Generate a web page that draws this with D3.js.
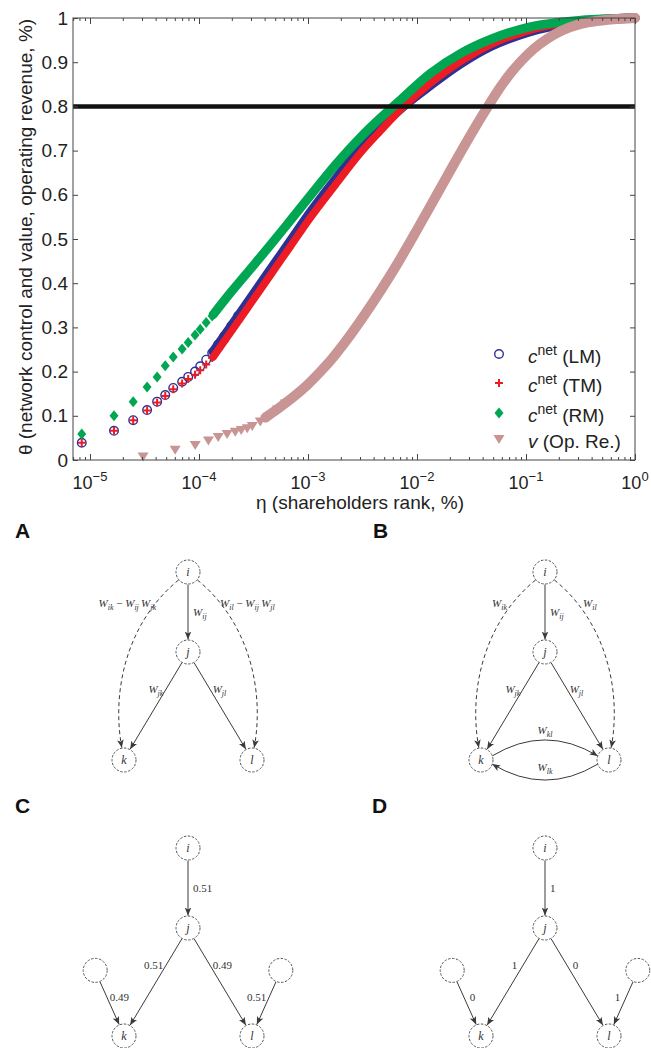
<!DOCTYPE html>
<html>
<head>
<meta charset="utf-8">
<script src="https://cdnjs.cloudflare.com/ajax/libs/d3/7.8.5/d3.min.js"></script>
<style>
body { margin: 0; background: #fff; }
svg { display: block; font-family: "Liberation Sans", Arial, sans-serif; }
</style>
</head>
<body>
<script>
// ---------- data ----------
// separate markers at the small-eta end (LM, TM, RM share the same eta)
var etaLow = [8.4e-6, 1.66e-5, 2.49e-5, 3.34e-5, 4.13e-5, 4.9e-5, 5.8e-5, 7.0e-5, 7.96e-5, 9.2e-5,
              1.026e-4, 1.164e-4, 1.321e-4, 1.50e-4, 1.705e-4, 1.977e-4, 2.29e-4];
var lmLow  = [0.039, 0.066, 0.090, 0.113, 0.132, 0.147, 0.163, 0.177, 0.188, 0.200,
              0.212, 0.227, 0.242, 0.261, 0.280, 0.303, 0.326];
var tmLow  = [0.039, 0.066, 0.090, 0.112, 0.130, 0.145, 0.160, 0.173, 0.183, 0.193,
              0.203, 0.216, 0.231, 0.249, 0.268, 0.291, 0.314];
var rmLow  = [0.059, 0.100, 0.132, 0.165, 0.188, 0.213, 0.233, 0.251, 0.266, 0.283,
              0.296, 0.311, 0.326, 0.343, 0.361, 0.381, 0.400];

// dense part (markers overlap into a band)
var etaDense = [1.35e-4, 1.94e-4, 2.96e-4, 4.51e-4, 6.89e-4, 1.05e-3, 1.79e-3, 3.03e-3,
                4.63e-3, 7.07e-3, 1.33e-2, 2.52e-2, 4.75e-2, 0.104, 0.319, 1];
var lmDense = [0.245, 0.300, 0.365, 0.430, 0.495, 0.560, 0.635, 0.705, 0.752, 0.795, 0.848, 0.897, 0.936, 0.968, 0.992, 1.0];
var tmDense = [0.233, 0.288, 0.353, 0.418, 0.483, 0.548, 0.623, 0.695, 0.745, 0.793, 0.853, 0.902, 0.940, 0.971, 0.993, 1.0];
var rmDense = [0.329, 0.378, 0.432, 0.486, 0.542, 0.598, 0.668, 0.730, 0.774, 0.815, 0.875, 0.920, 0.952, 0.979, 0.995, 1.0];

// operating revenue
var etaOpLow = [3.07e-5, 6.04e-5, 9.23e-5, 1.22e-4, 1.5e-4, 1.81e-4, 2.15e-4, 2.44e-4,
                2.77e-4, 3.08e-4, 3.65e-4, 4.32e-4, 5.24e-4, 6.2e-4];
var opLow    = [0.008, 0.023, 0.034, 0.044, 0.052, 0.059, 0.064, 0.068,
                0.072, 0.077, 0.087, 0.098, 0.114, 0.128];
var etaOpDense = [4.06e-4, 5.57e-4, 7.65e-4, 9.87e-4, 1.30e-3, 1.61e-3, 2.21e-3, 3.23e-3, 4.63e-3, 6.64e-3,
                  9.70e-3, 1.33e-2, 1.87e-2, 2.68e-2, 4.27e-2, 5.86e-2, 0.104, 0.180, 0.370, 1];
var opDense    = [0.096, 0.120, 0.146, 0.170, 0.200, 0.225, 0.268, 0.325, 0.383, 0.445,
                  0.515, 0.575, 0.640, 0.708, 0.792, 0.845, 0.918, 0.962, 0.990, 1.0];

var threshold = 0.8;
var yTicks = [0, 0.1, 0.2, 0.3, 0.4, 0.5, 0.6, 0.7, 0.8, 0.9, 1];
var xTickExp = [-5, -4, -3, -2, -1, 0];
var legendNames = ["(LM)", "(TM)", "(RM)", "(Op. Re.)"];

// diagrams
var nodeNames = ["i", "j", "k", "l", "m", "n"];
var nodeCol = [0, 0, -1, 1, -1.45, 1.45];
var nodeRow = [0, 1, 2.35, 2.35, 1.53, 1.53];
var edgesA = [["i","j","W_ij"], ["j","k","W_jk"], ["j","l","W_jl"],
              ["i","k","W_ik \u2212 W_ij\u2009W_jk","dash"], ["i","l","W_il \u2212 W_ij\u2009W_jl","dash"]];
var edgesB = [["i","j","W_ij"], ["j","k","W_jk"], ["j","l","W_jl"],
              ["i","k","W_ik","dash"], ["i","l","W_il","dash"],
              ["k","l","W_kl","arcUp"], ["l","k","W_lk","arcDown"]];
var edgesC = [["i","j","0.51"], ["j","k","0.51"], ["j","l","0.49"], ["m","k","0.49"], ["n","l","0.51"]];
var edgesD = [["i","j","1"], ["j","k","1"], ["j","l","0"], ["m","k","0"], ["n","l","1"]];

// ---------- chart ----------
var width = 651, height = 1048;
var svg = d3.select("body").append("svg")
    .attr("width", width)
    .attr("height", height);

var plotL = 73, plotR = 635, plotT = 18, plotB = 460;

var x = d3.scaleLog().domain([Math.pow(10, -5.156), 1]).range([plotL, plotR]);
var y = d3.scaleLinear().domain([0, 1]).range([plotB, plotT]);

var blue = "#2e3192", red = "#ed1c24", green = "#00a651", pink = "#c99494";

function pairs(xs, ys) { return xs.map(function(v, i) { return [v, ys[i]]; }); }

var line = d3.line()
    .x(function(d) { return x(d[0]); })
    .y(function(d) { return y(d[1]); })
    .curve(d3.curveMonotoneX);

var plot = svg.append("g");

function band(data, color, w) {
    plot.append("path")
        .datum(data)
        .attr("d", line)
        .attr("fill", "none")
        .attr("stroke", color)
        .attr("stroke-width", w)
        .attr("stroke-linecap", "round")
        .attr("stroke-linejoin", "round");
}

// blue circles
band(pairs(etaDense, lmDense), blue, 9.5);
plot.selectAll(".lm").data(pairs(etaLow, lmLow)).enter().append("circle")
    .attr("cx", function(d) { return x(d[0]); })
    .attr("cy", function(d) { return y(d[1]); })
    .attr("r", 4.3)
    .attr("fill", "none").attr("stroke", blue).attr("stroke-width", 1.4);

// red plus
band(pairs(etaDense, tmDense), red, 7.5);
plot.selectAll(".tm").data(pairs(etaLow, tmLow)).enter().append("path")
    .attr("transform", function(d) { return "translate(" + x(d[0]) + "," + y(d[1]) + ")"; })
    .attr("d", "M-4,0H4M0,-4V4")
    .attr("stroke", red).attr("stroke-width", 2);

// green diamonds
band(pairs(etaDense, rmDense), green, 9);
plot.selectAll(".rm").data(pairs(etaLow, rmLow)).enter().append("path")
    .attr("transform", function(d) { return "translate(" + x(d[0]) + "," + y(d[1]) + ")"; })
    .attr("d", "M0,-5.5L4.5,0L0,5.5L-4.5,0Z")
    .attr("fill", green);

// pink triangles
band(pairs(etaOpDense, opDense), pink, 10);
plot.selectAll(".op").data(pairs(etaOpLow, opLow)).enter().append("path")
    .attr("transform", function(d) { return "translate(" + x(d[0]) + "," + y(d[1]) + ")"; })
    .attr("d", "M-5.5,-4L5.5,-4L0,5Z")
    .attr("fill", pink);

// 80% line
svg.append("line")
    .attr("x1", plotL).attr("x2", plotR)
    .attr("y1", y(threshold)).attr("y2", y(threshold))
    .attr("stroke", "#111").attr("stroke-width", 4.5);

// axes
var decades = xTickExp.map(function(e) { return Math.pow(10, e); });
var minor = x.ticks().filter(function(v) {
    var l = Math.log10(v);
    return Math.abs(l - Math.round(l)) > 1e-6;
});

function styleAxis(g) {
    g.select(".domain").remove();
    g.selectAll(".tick line").attr("stroke", "#444");
    g.attr("font-family", null).attr("font-size", null);
}

svg.append("g").attr("transform", "translate(0," + plotB + ")")
    .call(d3.axisBottom(x).tickValues(decades).tickSize(-6).tickFormat("")).call(styleAxis);
svg.append("g").attr("transform", "translate(0," + plotB + ")")
    .call(d3.axisBottom(x).tickValues(minor).tickSize(-3).tickFormat("")).call(styleAxis);
svg.append("g").attr("transform", "translate(0," + plotT + ")")
    .call(d3.axisTop(x).tickValues(decades).tickSize(-6).tickFormat("")).call(styleAxis);
svg.append("g").attr("transform", "translate(0," + plotT + ")")
    .call(d3.axisTop(x).tickValues(minor).tickSize(-3).tickFormat("")).call(styleAxis);

var yAxis = svg.append("g").attr("transform", "translate(" + plotL + ",0)")
    .call(d3.axisLeft(y).tickValues(yTicks).tickSize(-5).tickPadding(5)
        .tickFormat(function(d) { return d === 0 ? "0" : d === 1 ? "1" : d3.format(".1f")(d); }))
    .call(styleAxis);
yAxis.selectAll("text").attr("font-size", "19px").attr("fill", "#222");

svg.append("g").attr("transform", "translate(" + plotR + ",0)")
    .call(d3.axisRight(y).tickValues(yTicks).tickSize(-5).tickFormat("")).call(styleAxis);

svg.append("rect")
    .attr("x", plotL).attr("y", plotT)
    .attr("width", plotR - plotL).attr("height", plotB - plotT)
    .attr("fill", "none").attr("stroke", "#444").attr("stroke-width", 1);

// x tick labels 10^e
var xl = svg.selectAll(".xlab").data(xTickExp).enter().append("text")
    .attr("x", function(e) { return x(Math.pow(10, e)); })
    .attr("y", 489)
    .attr("text-anchor", "middle")
    .attr("font-size", "18px")
    .attr("fill", "#222");
xl.append("tspan").text("10");
xl.append("tspan").attr("dy", -8).attr("font-size", "13px")
    .text(function(e) { return e === 0 ? "0" : "\u2212" + Math.abs(e); });

// axis titles
svg.append("text")
    .attr("x", (plotL + plotR) / 2 + 6).attr("y", 509)
    .attr("text-anchor", "middle")
    .attr("font-size", "19px").attr("fill", "#222")
    .text("\u03b7 (shareholders rank, %)");

svg.append("text")
    .attr("transform", "translate(32," + ((plotT + plotB) / 2 - 2) + ") rotate(-90)")
    .attr("text-anchor", "middle")
    .attr("font-size", "19px").attr("fill", "#222")
    .text("\u03b8 (network control and value, operating revenue, %)");

// legend
var legY = [354, 383, 413, 439];
var legSym = [
    function(g) { g.append("circle").attr("r", 4.3).attr("fill", "none").attr("stroke", blue).attr("stroke-width", 1.4); },
    function(g) { g.append("path").attr("d", "M-4,0H4M0,-4V4").attr("stroke", red).attr("stroke-width", 2); },
    function(g) { g.append("path").attr("d", "M0,-5.5L4.5,0L0,5.5L-4.5,0Z").attr("fill", green); },
    function(g) { g.append("path").attr("d", "M-5.5,-4L5.5,-4L0,5Z").attr("fill", pink); }
];
legendNames.forEach(function(name, i) {
    var g = svg.append("g").attr("transform", "translate(499," + legY[i] + ")");
    legSym[i](g);
    var t = svg.append("text")
        .attr("x", 528).attr("y", legY[i] + 9)
        .attr("font-size", "19px").attr("fill", "#222");
    if (i < 3) {
        t.append("tspan").attr("font-style", "italic").text("c");
        t.append("tspan").attr("dy", -8).attr("font-size", "14px").text("net");
        t.append("tspan").attr("dy", 8).text(" " + name);
    } else {
        t.append("tspan").attr("font-style", "italic").text("v");
        t.append("tspan").text(" " + name);
    }
});

// ---------- diagrams ----------
var unitX = 64, unitY = 80, nodeR = 12;
var ink = "#3a3a3a";

svg.append("defs").append("marker")
    .attr("id", "arrow")
    .attr("viewBox", "0 -4 9 8")
    .attr("refX", 8).attr("refY", 0)
    .attr("markerUnits", "userSpaceOnUse")
    .attr("markerWidth", 9).attr("markerHeight", 8)
    .attr("orient", "auto")
  .append("path")
    .attr("d", "M0,-3.3L8,0L0,3.3L2,0Z")
    .attr("fill", ink);

function mathLabel(sel, str) {
    var parts = str.match(/W_[a-z]+|[^W]+/g);
    var pending = 0;
    parts.forEach(function(p) {
        var t;
        if (p.indexOf("W_") === 0) {
            t = sel.append("tspan").attr("font-style", "italic").text("W");
            if (pending) t.attr("dy", pending);
            sel.append("tspan").attr("font-style", "italic").attr("font-size", "8px")
                .attr("dy", 3).text(p.slice(2));
            pending = -3;
        } else {
            t = sel.append("tspan").text(p);
            if (pending) t.attr("dy", pending);
            pending = 0;
        }
    });
}

function drawPanel(letter, lx, ly, cx, cy, nodes, edges, gap, dashGap) {
    var g = svg.append("g");
    g.append("text").attr("x", lx).attr("y", ly)
        .attr("font-size", "21px").attr("font-weight", "bold").attr("fill", "#111")
        .text(letter);

    var px = d3.scaleLinear().domain([0, 1]).range([cx, cx + unitX]);
    var py = d3.scaleLinear().domain([0, 1]).range([cy, cy + unitY]);
    var pos = {};
    nodes.forEach(function(n) {
        var k = nodeNames.indexOf(n);
        pos[n] = [px(nodeCol[k]), py(nodeRow[k])];
    });

    function onCircle(c, toward) {
        var dx = toward[0] - c[0], dy = toward[1] - c[1], L = Math.sqrt(dx * dx + dy * dy);
        return [c[0] + dx / L * nodeR, c[1] + dy / L * (nodeR + 0.5)];
    }

    edges.forEach(function(e) {
        var a = pos[e[0]], b = pos[e[1]], kind = e[3] || "solid";
        var path = d3.path(), lab = null;
        if (kind === "solid") {
            var s = onCircle(a, b), t = onCircle(b, a);
            path.moveTo(s[0], s[1]); path.lineTo(t[0], t[1]);
            var f = e[0] === "i" ? 0.5 : (e[0] === "j" ? 0.3 : 0.35);
            var mx = s[0] + (t[0] - s[0]) * f, my = s[1] + (t[1] - s[1]) * f;
            var side = (e[0] === "i" || (e[0] === "j" && e[1] === "l") || e[0] === "m") ? 1 : -1;
            var dx = e[0] === "i" ? 5 : gap;
            lab = [mx + side * dx, my + 4, side > 0 ? "start" : "end"];
        } else if (kind === "dash") {
            var sgn = e[1] === "k" ? -1 : 1;
            var c1 = [px(sgn * 0.95), py(0.62)], c2 = [px(sgn * 1.2), py(1.48)];
            var s2 = onCircle(a, c1), t2 = onCircle(b, c2);
            path.moveTo(s2[0], s2[1]);
            path.bezierCurveTo(c1[0], c1[1], c2[0], c2[1], t2[0], t2[1]);
            lab = [a[0] + sgn * dashGap, a[1] + 35, sgn < 0 ? "end" : "start"];
        } else {
            var up = kind === "arcUp" ? -1 : 1;
            var ang = 20 * Math.PI / 180;
            var dir = b[0] > a[0] ? 1 : -1;
            var s3 = [a[0] + dir * nodeR * Math.cos(ang), a[1] + up * nodeR * Math.sin(ang)];
            var t3 = [b[0] - dir * nodeR * Math.cos(ang), b[1] + up * nodeR * Math.sin(ang)];
            var ctl = [(a[0] + b[0]) / 2, a[1] + up * 36];
            path.moveTo(s3[0], s3[1]);
            path.quadraticCurveTo(ctl[0], ctl[1], t3[0], t3[1]);
            lab = [ctl[0], up < 0 ? a[1] - 26 : a[1] + 11, "middle"];
        }
        g.append("path")
            .attr("d", path.toString())
            .attr("fill", "none")
            .attr("stroke", ink)
            .attr("stroke-width", 1)
            .attr("stroke-dasharray", kind === "dash" ? "4,3" : null)
            .attr("marker-end", "url(#arrow)");
        var tx = g.append("text")
            .attr("x", lab[0]).attr("y", lab[1])
            .attr("text-anchor", lab[2])
            .attr("font-family", "'Liberation Serif', 'DejaVu Serif', serif")
            .attr("font-size", "11px")
            .attr("fill", "#333");
        mathLabel(tx, e[2]);
    });

    nodes.forEach(function(n) {
        g.append("circle")
            .attr("cx", pos[n][0]).attr("cy", pos[n][1]).attr("r", nodeR)
            .attr("fill", "#fff").attr("stroke", "#555")
            .attr("stroke-width", 1).attr("stroke-dasharray", "2.5,1.5");
        if (n !== "m" && n !== "n") {
            g.append("text")
                .attr("x", pos[n][0]).attr("y", pos[n][1] + 4)
                .attr("text-anchor", "middle")
                .attr("font-family", "'Liberation Serif', 'DejaVu Serif', serif")
                .attr("font-style", "italic").attr("font-size", "12px")
                .attr("fill", "#333")
                .text(n);
        }
    });
}

drawPanel("A", 15, 538, 188, 572, ["i", "j", "k", "l"], edgesA, 3, 32);
drawPanel("B", 373, 538, 545, 572, ["i", "j", "k", "l"], edgesB, 3, 38);
drawPanel("C", 15, 813, 188, 848, ["i", "j", "k", "l", "m", "n"], edgesC, 3, 32);
drawPanel("D", 372, 813, 545, 848, ["i", "j", "k", "l", "m", "n"], edgesD, 6, 32);
</script>
</body>
</html>
